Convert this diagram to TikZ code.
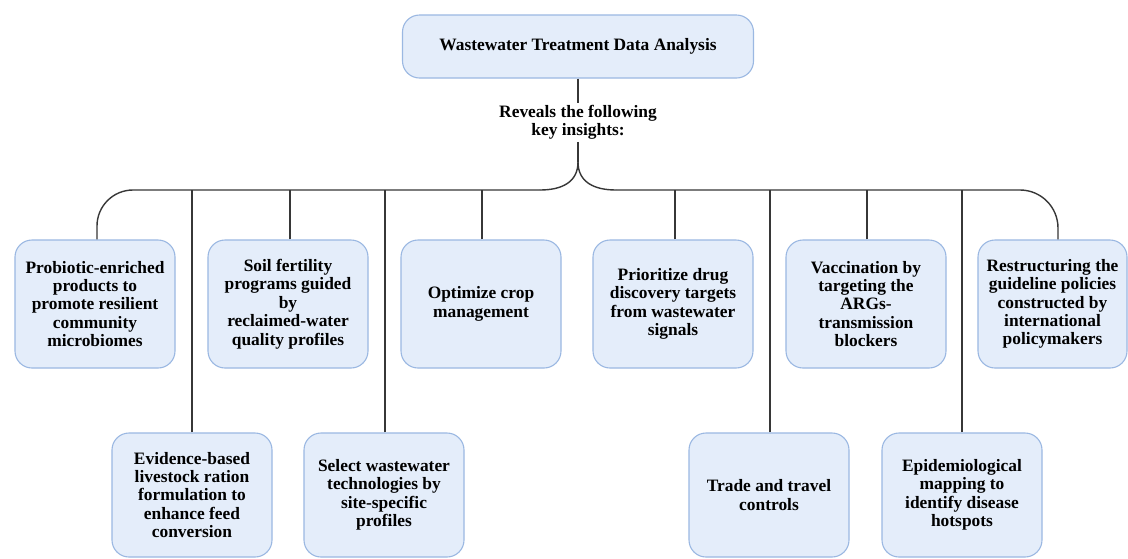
\documentclass[tikz,border=0pt]{standalone}
\usepackage{fontspec}
\setmainfont{Liberation Serif}
\definecolor{boxfill}{RGB}{228,237,250}
\definecolor{boxdraw}{RGB}{155,184,226}
\definecolor{linec}{RGB}{55,55,55}
\tikzset{
  card/.style={draw=boxdraw, fill=boxfill, line width=1.1pt, rounded corners=17pt,
    minimum width=160pt, align=center, inner sep=2pt,
    font=\fontsize{17.4}{18.4}\selectfont\bfseries},
  toprow/.style={card, minimum height=128pt},
  botrow/.style={card, minimum height=124pt},
  conn/.style={draw=linec, line width=1.4pt},
  lbl/.style={align=center, inner sep=1pt, font=\fontsize{17.4}{18.4}\selectfont\bfseries}
}
\begin{document}
\begin{tikzpicture}[x=1pt,y=-1pt]
\useasboundingbox (0,0) rectangle (1128,558);
\fill[white] (0,0) rectangle (1128,558);
% title
\node[card, minimum width=351pt, minimum height=63pt] (top) at (578,46.5) {Wastewater Treatment Data Analysis};
\node[lbl] (rev) at (578,122.5) {Reveals the following\\key insights:};
\coordinate (cusp) at (578,162);
\coordinate (bus) at (578,190);
\coordinate (busL) at (540,190);
\coordinate (busR) at (616,190);
% top row
\node[toprow] (b1) at (95,304) {Probiotic-enriched\\products to\\promote resilient\\community\\microbiomes};
\node[toprow] (b2) at (288,304) {Soil fertility\\programs guided\\by\\reclaimed-water\\quality profiles};
\node[toprow] (b3) at (481,304) {Optimize crop\\management};
\node[toprow] (b4) at (673,304) {Prioritize drug\\discovery targets\\from wastewater\\signals};
\node[toprow] (b5) at (866,304) {Vaccination by\\targeting the\\ARGs-\\transmission\\blockers};
\node[toprow, minimum width=149pt] (b6) at (1052.5,304) {Restructuring the\\guideline policies\\constructed by\\international\\policymakers};
% bottom row
\node[botrow] (c1) at (192,495) {Evidence-based\\livestock ration\\formulation to\\enhance feed\\conversion};
\node[botrow] (c2) at (384,495) {Select wastewater\\technologies by\\site-specific\\profiles};
\node[botrow] (c3) at (769,495) {Trade and travel\\controls};
\node[botrow] (c4) at (962,495) {Epidemiological\\mapping to\\identify disease\\hotspots};
% connectors
\draw[conn] (top.south) -- ([yshift=1pt]rev.north);
\draw[conn] ([yshift=-1pt]rev.south) -- (cusp);
\draw[conn] (cusp) .. controls (578,182) and (562,190) .. (busL);
\draw[conn] (cusp) .. controls (578,182) and (594,190) .. (busR);
\draw[conn, rounded corners=36pt] (busL) -| ([xshift=2pt]b1.north);
\draw[conn, rounded corners=38pt] (busR) -| ([xshift=5.5pt]b6.north);
\draw[conn] ([xshift=2pt]b2.north) -- ([xshift=2pt]b2.north |- bus);
\draw[conn] ([xshift=1pt]b3.north) -- ([xshift=1pt]b3.north |- bus);
\draw[conn] ([xshift=2pt]b4.north) -- ([xshift=2pt]b4.north |- bus);
\draw[conn] ([xshift=1pt]b5.north) -- ([xshift=1pt]b5.north |- bus);
\draw[conn] (c1.north) -- (c1.north |- bus);
\draw[conn] ([xshift=1pt]c2.north) -- ([xshift=1pt]c2.north |- bus);
\draw[conn] ([xshift=1pt]c3.north) -- ([xshift=1pt]c3.north |- bus);
\draw[conn] (c4.north) -- (c4.north |- bus);
\end{tikzpicture}
\end{document}
